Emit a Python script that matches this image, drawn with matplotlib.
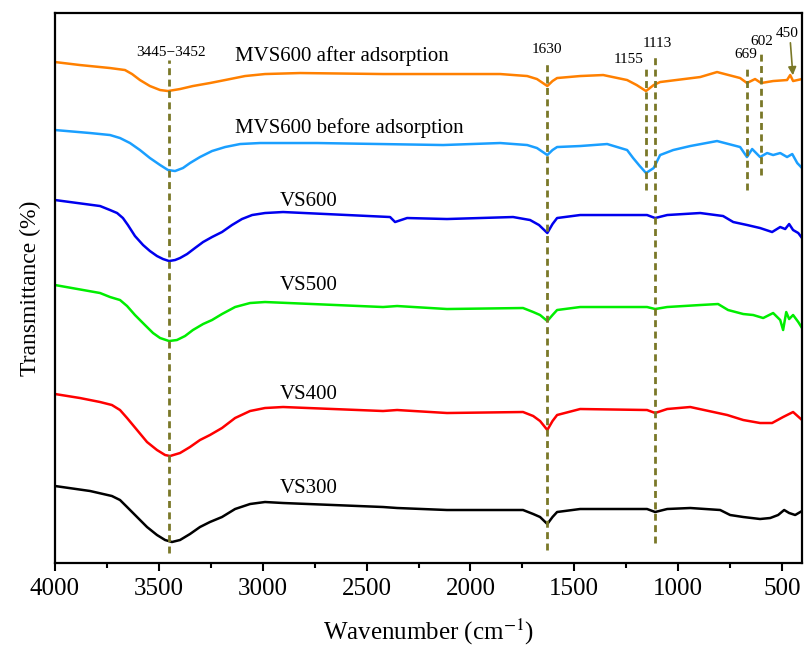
import numpy as np
import matplotlib.pyplot as plt
from matplotlib.ticker import MultipleLocator

plt.rcParams['font.family'] = ['Liberation Serif', 'DejaVu Serif']
plt.rcParams['mathtext.fontset'] = 'stix'

# wavenumber (cm-1) and offset transmittance (a.u.)
wn_after = [4000, 3880, 3735, 3663, 3629, 3591, 3543, 3494, 3456, 3398, 3336, 3254, 3181, 3085, 2989, 2820,
            2421, 1857, 1727, 1680, 1630, 1605, 1583, 1472, 1361, 1246, 1200, 1155, 1118, 1087, 894, 813,
            702, 669, 630, 601, 543, 476, 461, 447, 404]
t_after = [538, 535, 532, 530, 526, 520, 514, 510, 509, 511, 514, 517, 520, 524, 526, 527,
           526, 526, 524, 521, 514, 519, 522, 524, 525, 520, 515, 509, 515, 518, 523, 528,
           522, 517, 521, 517, 519, 520, 525, 519, 521]

wn_before = [4000, 3831, 3735, 3687, 3639, 3591, 3543, 3494, 3456, 3422, 3384, 3350, 3302, 3244, 3181, 3109,
             3013, 2738, 2132, 1857, 1727, 1680, 1630, 1605, 1583, 1472, 1342, 1246, 1217, 1185, 1155, 1118,
             1087, 1024, 942, 813, 702, 669, 644, 606, 572, 543, 509, 476, 451, 427, 404]
t_before = [470, 467, 465, 462, 457, 450, 442, 435, 430, 429, 432, 437, 443, 449, 453, 456,
            457, 457, 455, 457, 455, 452, 445, 450, 453, 454, 456, 450, 442, 434, 427, 432,
            445, 450, 454, 459, 453, 443, 451, 443, 447, 445, 447, 443, 446, 437, 432]

wn_vs600 = [4000, 3928, 3783, 3735, 3701, 3673, 3649, 3615, 3576, 3543, 3509, 3480, 3451, 3422, 3398, 3364,
            3326, 3287, 3244, 3196, 3148, 3100, 3051, 2989, 2902, 2387, 2363, 2305, 2113, 1795, 1713, 1670,
            1630, 1605, 1583, 1472, 1150, 1111, 1053, 894, 784, 735, 668, 606, 548, 509, 485, 466,
            447, 422, 404]
t_vs600 = [400, 398, 394, 390, 387, 382, 375, 364, 355, 349, 344, 341, 339, 340, 342, 346,
           352, 358, 363, 368, 375, 381, 385, 387, 388, 383, 378, 382, 381, 383, 380, 375,
           367, 376, 382, 385, 385, 382, 385, 387, 384, 378, 375, 372, 368, 373, 371, 376,
           370, 367, 362]

wn_vs500 = [4000, 3783, 3735, 3687, 3653, 3615, 3567, 3528, 3494, 3451, 3413, 3374, 3336, 3287, 3244, 3196,
            3133, 3061, 2989, 2421, 2353, 2113, 1747, 1698, 1665, 1630, 1605, 1583, 1472, 1150, 1111, 1053,
            894, 808, 760, 687, 639, 591, 543, 509, 495, 480, 466, 447, 422, 404]
t_vs500 = [315, 307, 303, 300, 294, 285, 275, 267, 262, 259, 260, 264, 270, 276, 280, 286,
           293, 297, 298, 293, 294, 291, 292, 288, 285, 279, 285, 290, 293, 293, 291, 293,
           295, 296, 290, 286, 285, 282, 287, 280, 270, 288, 281, 285, 278, 272]

wn_vs400 = [4000, 3880, 3783, 3726, 3687, 3653, 3605, 3557, 3509, 3470, 3446, 3398, 3350, 3302, 3254, 3196,
            3133, 3061, 2989, 2902, 2421, 2353, 2113, 1747, 1698, 1665, 1630, 1605, 1583, 1472, 1150, 1111,
            1053, 942, 764, 687, 606, 548, 495, 447, 404]
t_vs400 = [206, 202, 198, 195, 190, 182, 170, 158, 150, 145, 144, 147, 153, 160, 165, 172,
           182, 189, 192, 193, 189, 190, 187, 188, 184, 179, 170, 179, 185, 191, 190, 187,
           191, 193, 185, 180, 177, 177, 183, 188, 180]

wn_vs300 = [4000, 3831, 3726, 3687, 3653, 3605, 3557, 3509, 3470, 3437, 3398, 3350, 3302, 3254, 3196, 3133,
            3061, 2989, 2902, 2421, 2353, 2113, 1747, 1698, 1665, 1630, 1605, 1583, 1472, 1150, 1111, 1053,
            942, 798, 750, 687, 606, 557, 519, 490, 466, 437, 404]
t_vs300 = [114, 109, 104, 100, 93, 83, 73, 65, 60, 58, 60, 66, 73, 78, 83, 91,
           96, 98, 97, 93, 92, 90, 90, 86, 83, 76, 83, 88, 91, 91, 88, 91,
           92, 90, 85, 83, 81, 82, 85, 90, 87, 85, 89]

series = [
    (wn_after, t_after, '#ff8000', 'MVS600 after adsorption', 544),
    (wn_before, t_before, '#1a9fff', 'MVS600 before adsorption', 472),
    (wn_vs600, t_vs600, '#0000ee', 'VS600', 399),
    (wn_vs500, t_vs500, '#00ee00', 'VS500', 315),
    (wn_vs400, t_vs400, '#ff0000', 'VS400', 206),
    (wn_vs300, t_vs300, '#000000', 'VS300', 112),
]

# marker lines: position, top, bottom
peak_pos = [3450, 1630, 1155, 1113, 669, 602]
peak_top = [540, 538, 533, 543, 535, 548]
peak_bot = [47, 50, 410, 57, 410, 425]
peak_text = ['3445\u22123452', '1630', '1155', '1113', '669', '602', '450']
peak_tx = [3440, 1630, 1241, 1101, 673, 596, 476]
peak_ty = [548, 551, 541, 557, 546, 559, 567]

olive = '#7a7828'

fig = plt.figure(figsize=(8.05, 6.52), dpi=100)
ax = fig.add_axes([0.0683, 0.1365, 0.928, 0.8435])

for wn, t, c, name, ly in series:
    ax.plot(wn, t, color=c, lw=1.8, solid_joinstyle='round')
    ax.text(3133 if 'MVS' in name else 2917, ly, name, fontsize=15, ha='left', va='center')

for p, top, bot in zip(peak_pos, peak_top, peak_bot):
    ax.plot([p, p], [bot, top], color=olive, lw=2, ls=(0, (2.5, 1.6)))

for s, x, y in zip(peak_text, peak_tx, peak_ty):
    ax.text(x, y, s, fontsize=11, ha='center', va='center')

ax.annotate('', xy=(447, 522), xytext=(461, 560),
            arrowprops=dict(arrowstyle='-|>', color=olive, lw=1.2, mutation_scale=12))

ax.set_xlim(4000, 404)
ax.set_ylim(37, 587)
ax.xaxis.set_major_locator(MultipleLocator(500))
ax.xaxis.set_minor_locator(MultipleLocator(250))
ax.set_yticks([])
ax.tick_params(axis='x', which='major', direction='out', length=6, width=1.5, labelsize=18, pad=5)
ax.tick_params(axis='x', which='minor', direction='out', length=3.5, width=1.5)
for sp in ax.spines.values():
    sp.set_linewidth(1.6)

ax.set_xlabel('Wavenumber (cm$^{-1}$)', fontsize=18, labelpad=12)
ax.set_ylabel('Transmittance (%)', fontsize=17, labelpad=10)

fig.savefig('out.png', dpi=100)
